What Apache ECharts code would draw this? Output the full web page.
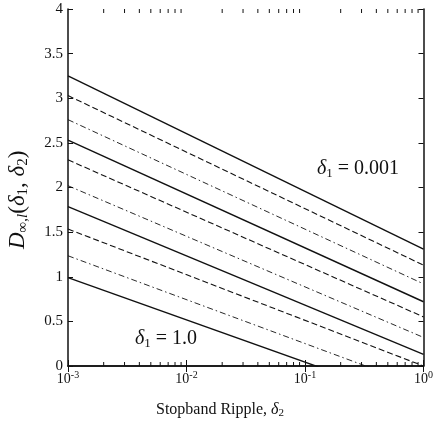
<!DOCTYPE html>
<html>
<head>
<meta charset="utf-8">
<script src="https://cdn.jsdelivr.net/npm/echarts@6/dist/echarts.min.js"></script>
<style>
  html, body { margin: 0; padding: 0; background: #fff; }
  #chart { width: 436px; height: 431px; }
</style>
</head>
<body>
<div id="chart"></div>
<script>
// D_inf curves vs stopband ripple, one line per passband ripple delta1
const delta1 = ['0.001', '0.002', '0.005', '0.01', '0.02', '0.05', '0.1', '0.2', '0.5', '1.0'];
const ripple = [0.001, 1];               // delta2 at the two ends of each line
const dAtLeft = [3.25, 3.03, 2.76, 2.53, 2.31, 2.02, 1.785, 1.535, 1.235, 0.99];
const dAtRight = [1.31, 1.13, 0.92, 0.72, 0.55, 0.32, 0.13, 0.0, -0.24, -0.43];
const yTicks = ['0', '0.5', '1', '1.5', '2', '2.5', '3', '3.5', '4'];
const decades = [0.001, 0.01, 0.1];
const minorMult = [2, 3, 4, 5, 6, 7, 8, 9];

const FONT = '"Liberation Serif", "DejaVu Serif", serif';
// solid / dashed / dash-dot cycle
const STYLES = [
  { type: 'solid', width: 1.4 },
  { type: [6, 3], width: 1.1 },
  { type: [6, 3, 1.5, 3], width: 0.9 }
];

const chart = echarts.init(document.getElementById('chart'));

var lines = [];
for (let i = 0; i < delta1.length; i++) {
  const st = STYLES[i % 3];
  lines.push({
    name: 'δ1 = ' + delta1[i],
    type: 'line',
    xAxisIndex: 0,
    yAxisIndex: 0,
    showSymbol: false,
    symbol: 'none',
    clip: true,
    silent: true,
    data: [[ripple[0], dAtLeft[i]], [ripple[1], dAtRight[i]]],
    lineStyle: { color: '#111', width: st.width, type: st.type },
    z: 3
  });
}

var minorTicks = [];
decades.forEach(function (d) {
  minorMult.forEach(function (m) { minorTicks.push([d * m, 0]); });
});

lines.push({
  type: 'custom',
  xAxisIndex: 0,
  yAxisIndex: 0,
  silent: true,
  clip: false,
  data: minorTicks,
  renderItem: function (params, api) {
    const x = api.value(0);
    const b = api.coord([x, 0]);
    const t = api.coord([x, 4]);
    return {
      type: 'group',
      children: [
        { type: 'line', shape: { x1: b[0], y1: b[1], x2: b[0], y2: b[1] - 4 }, style: { stroke: '#111', lineWidth: 1 } },
        { type: 'line', shape: { x1: t[0], y1: t[1], x2: t[0], y2: t[1] + 4 }, style: { stroke: '#111', lineWidth: 1 } }
      ]
    };
  }
});

const axisLine = { show: true, lineStyle: { color: '#111', width: 1.5 } };
const tick = { show: true, inside: true, length: 6, lineStyle: { color: '#111', width: 1 } };

const option = {
  backgroundColor: '#fff',
  animation: false,
  grid: { left: 68, right: 6, top: 9, bottom: 65 },
  xAxis: [{
    type: 'log',
    logBase: 10,
    min: 0.001,
    max: 1,
    position: 'bottom',
    axisLine: axisLine,
    axisTick: tick,
    splitLine: { show: false },
    axisLabel: {
      margin: 4,
      fontFamily: FONT,
      color: '#111',
      formatter: function (v) {
        return '{b|10}{s|' + Math.round(Math.log10(v)) + '}';
      },
      rich: {
        b: { fontFamily: FONT, fontSize: 14, color: '#111', verticalAlign: 'bottom' },
        s: { fontFamily: FONT, fontSize: 10, color: '#111', verticalAlign: 'top', padding: [0, 0, 6, 0] }
      }
    }
  }, {
    type: 'log',
    logBase: 10,
    min: 0.001,
    max: 1,
    position: 'top',
    axisLine: axisLine,
    axisTick: tick,
    axisLabel: { show: false },
    splitLine: { show: false }
  }],
  yAxis: [{
    type: 'value',
    min: 0,
    max: 4,
    interval: 0.5,
    position: 'left',
    axisLine: axisLine,
    axisTick: { show: true, inside: true, length: 5, lineStyle: { color: '#111', width: 1 } },
    splitLine: { show: false },
    axisLabel: {
      margin: 5,
      fontFamily: FONT,
      fontSize: 15,
      color: '#111',
      formatter: function (v) { return yTicks[Math.round(v * 2)]; }
    }
  }, {
    type: 'value',
    min: 0,
    max: 4,
    interval: 0.5,
    position: 'right',
    axisLine: axisLine,
    axisTick: { show: true, inside: true, length: 5, lineStyle: { color: '#111', width: 1 } },
    axisLabel: { show: false },
    splitLine: { show: false }
  }],
  graphic: [{
    type: 'text',
    left: 317,
    top: 159,
    style: {
      text: '{d|δ}{s|1}{n| = 0.001}',
      rich: {
        d: { fontFamily: FONT, fontStyle: 'italic', fontSize: 20, fill: '#111' },
        s: { fontFamily: FONT, fontSize: 13, fill: '#111', padding: [9, 0, 0, 0] },
        n: { fontFamily: FONT, fontSize: 20, fill: '#111' }
      }
    }
  }, {
    type: 'text',
    left: 135,
    top: 329,
    style: {
      text: '{d|δ}{s|1}{n| = 1.0}',
      rich: {
        d: { fontFamily: FONT, fontStyle: 'italic', fontSize: 20, fill: '#111' },
        s: { fontFamily: FONT, fontSize: 13, fill: '#111', padding: [9, 0, 0, 0] },
        n: { fontFamily: FONT, fontSize: 20, fill: '#111' }
      }
    }
  }, {
    type: 'text',
    left: 156,
    top: 402,
    style: {
      text: '{n|Stopband Ripple, }{d|δ}{s|2}',
      rich: {
        n: { fontFamily: FONT, fontSize: 16, fill: '#111' },
        d: { fontFamily: FONT, fontStyle: 'italic', fontSize: 16, fill: '#111' },
        s: { fontFamily: FONT, fontSize: 11, fill: '#111', padding: [7, 0, 0, 0] }
      }
    }
  }, {
    type: 'text',
    x: 5,
    y: 249,
    rotation: Math.PI / 2,
    style: {
      text: '{D|D}{s|∞,}{si|l}{n|(}{d|δ}{s|1}{n|, }{d|δ}{s|2}{n|)}',
      rich: {
        D: { fontFamily: FONT, fontStyle: 'italic', fontSize: 23, fill: '#111' },
        n: { fontFamily: FONT, fontSize: 23, fill: '#111' },
        d: { fontFamily: FONT, fontStyle: 'italic', fontSize: 23, fill: '#111' },
        s: { fontFamily: FONT, fontSize: 15, fill: '#111', padding: [11, 0, 0, 0] },
        si: { fontFamily: FONT, fontStyle: 'italic', fontSize: 15, fill: '#111', padding: [11, 0, 0, 0] }
      }
    }
  }],
  series: lines
};

chart.setOption(option);
</script>
</body>
</html>
